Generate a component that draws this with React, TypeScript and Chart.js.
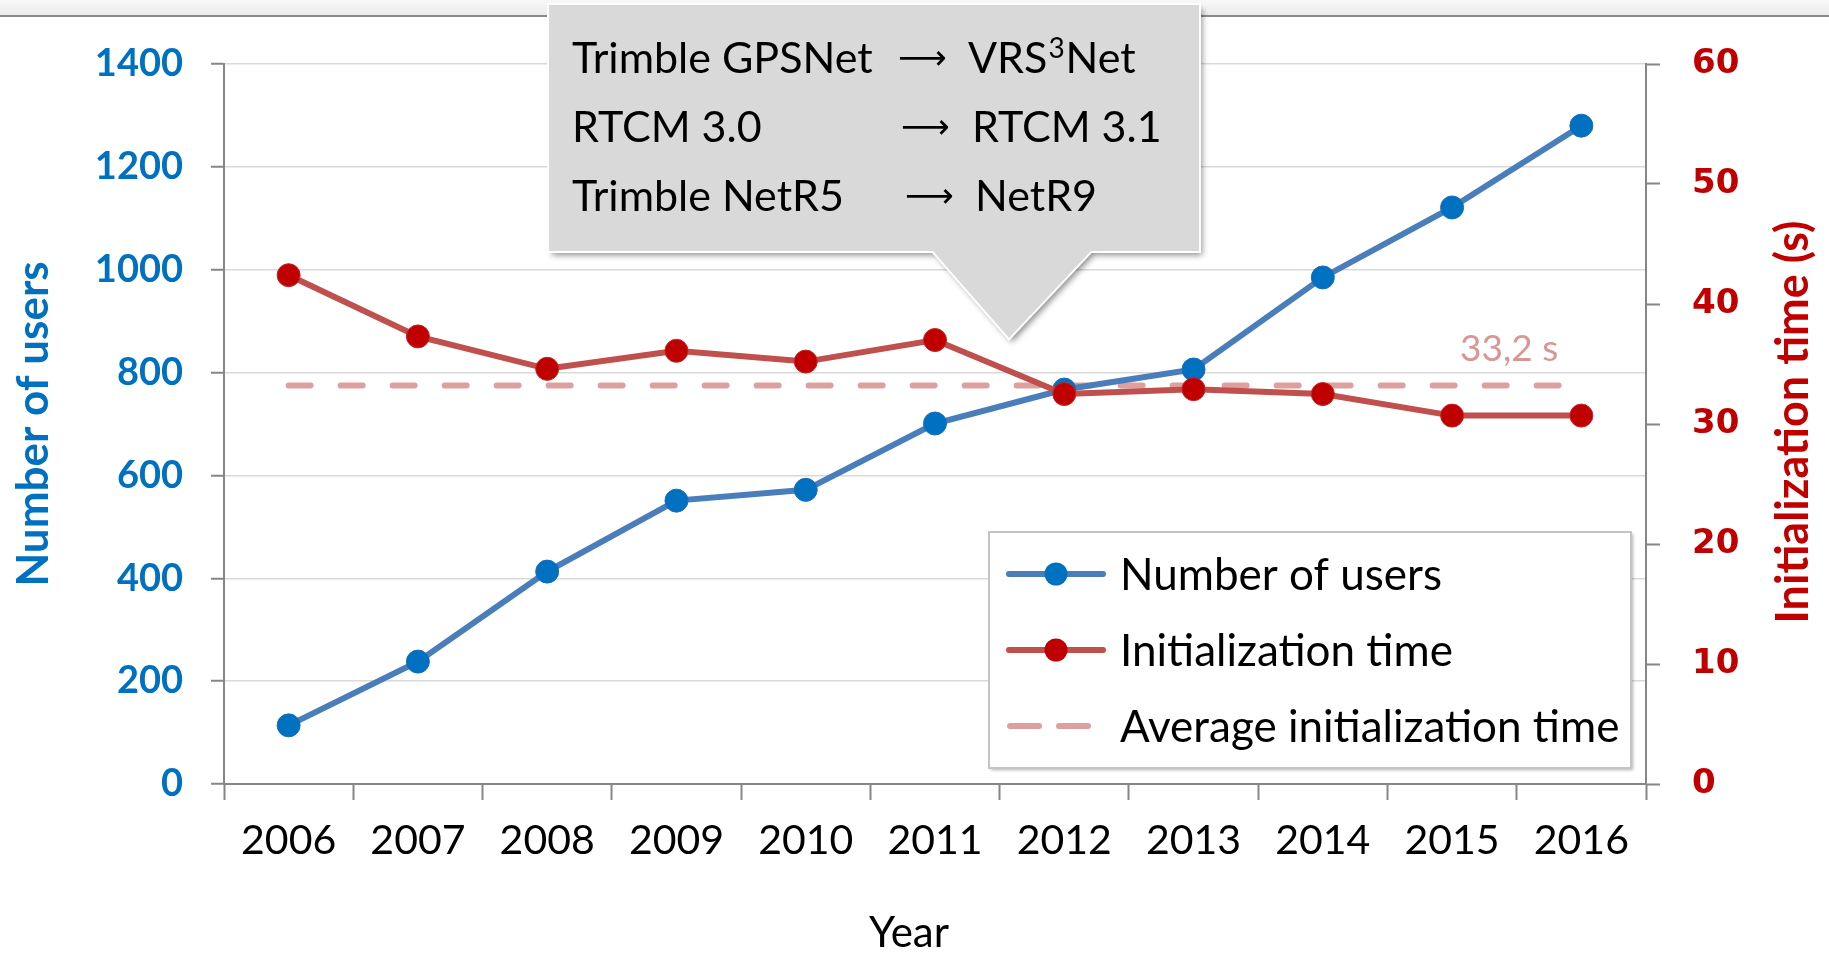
import React, { useEffect, useRef } from 'react';
import { Chart, registerables } from 'chart.js';

Chart.register(...registerables);

const years = ['2006', '2007', '2008', '2009', '2010', '2011', '2012', '2013', '2014', '2015', '2016'];
const numberOfUsers = [114, 238, 413, 551, 572, 701, 767, 806, 985, 1121, 1280];
const initializationTime = [42.4, 37.3, 34.6, 36.1, 35.2, 37.0, 32.5, 32.9, 32.5, 30.7, 30.7];
const averageInitTime = 33.2;
const averageLabel = '33,2 s';
const usersAxis = { min: 0, max: 1400, step: 200 };
const timeAxis = { min: 0, max: 60, step: 10 };
const calloutFrom = ['Trimble GPSNet', 'RTCM 3.0', 'Trimble NetR5'];
const calloutTo = [['VRS', '3', 'Net'], ['RTCM 3.1', '', ''], ['NetR9', '', '']];
const legendLabels = ['Number of users', 'Initialization time', 'Average initialization time'];
const rightAxisTitle = 'Initialization time (s)';

const W = 1829;
const H = 954;
const FONT = 'Lato, "DejaVu Sans", sans-serif';

const decorPlugin = {
  id: 'decor',
  beforeDraw(chart: any) {
    const ctx = chart.ctx as CanvasRenderingContext2D;
    ctx.save();
    ctx.fillStyle = '#ffffff';
    ctx.fillRect(0, 0, W, H);
    const g = ctx.createLinearGradient(0, 0, 0, 15);
    g.addColorStop(0, '#f8f8f8');
    g.addColorStop(1, '#ececec');
    ctx.fillStyle = g;
    ctx.fillRect(0, 0, W, 15);
    ctx.strokeStyle = '#8a8a8a';
    ctx.lineWidth = 2;
    ctx.beginPath();
    ctx.moveTo(0, 16);
    ctx.lineTo(W, 16);
    ctx.stroke();
    ctx.restore();
  },
  afterDraw(chart: any) {
    const ctx = chart.ctx as CanvasRenderingContext2D;
    const yT = chart.scales.yTime;
    ctx.save();

    // average label
    ctx.fillStyle = '#D99694';
    ctx.font = `37px ${FONT}`;
    ctx.textAlign = 'left';
    ctx.textBaseline = 'alphabetic';
    ctx.fillText(averageLabel, 1460, yT.getPixelForValue(averageInitTime) - 25);

    // right axis title (reads bottom to top)
    ctx.save();
    ctx.translate(1793, (yT.top + yT.bottom) / 2 - 2);
    ctx.rotate(-Math.PI / 2);
    ctx.textAlign = 'center';
    ctx.textBaseline = 'middle';
    ctx.fillStyle = '#C00000';
    ctx.font = `bold 45px ${FONT}`;
    ctx.fillText(rightAxisTitle, 0, 0);
    ctx.restore();

    // callout
    ctx.save();
    ctx.beginPath();
    ctx.moveTo(549, 5);
    ctx.lineTo(1199, 5);
    ctx.lineTo(1199, 251);
    ctx.lineTo(1091, 251);
    ctx.lineTo(1009, 338);
    ctx.lineTo(933, 251);
    ctx.lineTo(549, 251);
    ctx.closePath();
    ctx.shadowColor = 'rgba(0,0,0,0.45)';
    ctx.shadowBlur = 6;
    ctx.shadowOffsetX = 3;
    ctx.shadowOffsetY = 4;
    ctx.fillStyle = '#d9d9d9';
    ctx.fill();
    ctx.shadowColor = 'transparent';
    ctx.strokeStyle = '#ffffff';
    ctx.lineWidth = 4;
    ctx.stroke();
    ctx.fillStyle = '#d9d9d9';
    ctx.fill();
    ctx.restore();

    ctx.fillStyle = '#000000';
    ctx.textBaseline = 'alphabetic';
    const baselines = [73, 142, 211];
    const arrowX = [898, 901, 905];
    const toX = [968, 972, 975];
    for (let i = 0; i < calloutFrom.length; i++) {
      ctx.font = `43px ${FONT}`;
      ctx.fillText(calloutFrom[i], 572, baselines[i]);
      ctx.font = `34px "DejaVu Sans", sans-serif`;
      ctx.fillText('\u27F6', arrowX[i], baselines[i] - 4);
      ctx.font = `43px ${FONT}`;
      const [a, sup, b] = calloutTo[i];
      let x = toX[i];
      ctx.fillText(a, x, baselines[i]);
      x += ctx.measureText(a).width;
      if (sup) {
        ctx.font = `28px ${FONT}`;
        ctx.fillText(sup, x + 1, baselines[i] - 15);
        x += ctx.measureText(sup).width + 2;
        ctx.font = `43px ${FONT}`;
      }
      if (b) ctx.fillText(b, x, baselines[i]);
    }

    // legend
    ctx.save();
    ctx.shadowColor = 'rgba(0,0,0,0.3)';
    ctx.shadowBlur = 3;
    ctx.shadowOffsetX = 2;
    ctx.shadowOffsetY = 2;
    ctx.fillStyle = '#ffffff';
    ctx.fillRect(989, 532, 642, 236);
    ctx.restore();
    ctx.strokeStyle = '#c4c4c4';
    ctx.lineWidth = 2;
    ctx.strokeRect(989, 532, 642, 236);

    const rows = [574, 650, 726];
    ctx.lineCap = 'round';
    ctx.strokeStyle = '#4A7EBB';
    ctx.lineWidth = 6;
    ctx.beginPath(); ctx.moveTo(1009, rows[0]); ctx.lineTo(1103, rows[0]); ctx.stroke();
    ctx.fillStyle = '#0070C0';
    ctx.beginPath(); ctx.arc(1056, rows[0], 11.5, 0, Math.PI * 2); ctx.fill();
    ctx.strokeStyle = '#C0504D';
    ctx.beginPath(); ctx.moveTo(1009, rows[1]); ctx.lineTo(1103, rows[1]); ctx.stroke();
    ctx.fillStyle = '#C00000';
    ctx.beginPath(); ctx.arc(1056, rows[1], 11.5, 0, Math.PI * 2); ctx.fill();
    ctx.strokeStyle = 'rgba(217,150,148,0.9)';
    ctx.beginPath(); ctx.moveTo(1010, rows[2]); ctx.lineTo(1039, rows[2]); ctx.stroke();
    ctx.beginPath(); ctx.moveTo(1059, rows[2]); ctx.lineTo(1088, rows[2]); ctx.stroke();

    ctx.fillStyle = '#000000';
    ctx.font = `44px ${FONT}`;
    ctx.textBaseline = 'middle';
    for (let i = 0; i < legendLabels.length; i++) {
      ctx.fillText(legendLabels[i], 1120, rows[i] + 2);
    }

    // x axis title
    ctx.textAlign = 'center';
    ctx.textBaseline = 'alphabetic';
    ctx.font = `42px ${FONT}`;
    ctx.fillText('Year', 909, 947);

    ctx.restore();
  },
};

export default function App() {
  const ref = useRef<HTMLCanvasElement>(null);

  useEffect(() => {
    if (!ref.current) return;
    const chart = new Chart(ref.current, {
      type: 'line',
      data: {
        labels: years,
        datasets: [
          {
            label: legendLabels[1],
            data: initializationTime,
            yAxisID: 'yTime',
            borderColor: '#C0504D',
            backgroundColor: '#C00000',
            pointBackgroundColor: '#C00000',
            pointBorderColor: '#C0282A',
            pointBorderWidth: 1,
            pointRadius: 11.5,
            borderWidth: 6,
            tension: 0,
            order: 0,
          },
          {
            label: legendLabels[0],
            data: numberOfUsers,
            yAxisID: 'yUsers',
            borderColor: '#4A7EBB',
            backgroundColor: '#0070C0',
            pointBackgroundColor: '#0070C0',
            pointBorderColor: '#1a6fb8',
            pointBorderWidth: 1,
            pointRadius: 11.5,
            borderWidth: 6,
            tension: 0,
            order: 1,
          },
          {
            label: legendLabels[2],
            data: years.map(() => averageInitTime),
            yAxisID: 'yTime',
            borderColor: 'rgba(217,150,148,0.9)',
            borderDash: [22, 30],
            borderCapStyle: 'round',
            borderWidth: 6,
            pointRadius: 0,
            tension: 0,
            order: 2,
          },
        ],
      },
      options: {
        responsive: false,
        animation: false,
        devicePixelRatio: 1,
        layout: { padding: { top: 64, left: 0, right: 0, bottom: 0 } },
        plugins: {
          legend: { display: false },
          tooltip: { enabled: false },
        },
        scales: {
          x: {
            type: 'category',
            offset: true,
            grid: {
              offset: true,
              drawOnChartArea: false,
              tickLength: 16,
              tickColor: '#868686',
              tickWidth: 2,
            },
            border: { color: '#868686', width: 2 },
            ticks: {
              color: '#000000',
              font: { family: FONT, size: 41 },
              padding: 16,
              maxRotation: 0,
              autoSkip: false,
            },
            afterFit: (s: any) => {
              s.height = 170;
            },
          },
          yUsers: {
            type: 'linear',
            position: 'left',
            min: usersAxis.min,
            max: usersAxis.max,
            ticks: {
              stepSize: usersAxis.step,
              color: '#0070C0',
              font: { family: FONT, size: 38, weight: 'bold' },
              padding: 28,
              callback: (v: any) => String(v),
            },
            grid: {
              color: '#d9d9d9',
              lineWidth: 1.5,
              tickLength: 13,
              tickColor: '#868686',
              tickWidth: 2,
            },
            border: { color: '#868686', width: 2 },
            title: {
              display: true,
              text: 'Number of users',
              color: '#0070C0',
              font: { family: FONT, size: 44, weight: 'bold' },
              padding: { top: 7, bottom: 0 },
            },
            afterFit: (s: any) => {
              s.width = 224;
            },
          },
          yTime: {
            type: 'linear',
            position: 'right',
            min: timeAxis.min,
            max: timeAxis.max,
            ticks: {
              stepSize: timeAxis.step,
              color: '#C00000',
              font: { family: '"DejaVu Sans", sans-serif', size: 34, weight: 'bold' },
              padding: 32,
            },
            grid: {
              drawOnChartArea: false,
              tickLength: 14,
              tickColor: '#868686',
              tickWidth: 2,
            },
            border: { color: '#868686', width: 2 },
            title: { display: false },
            afterFit: (s: any) => {
              s.width = 183;
            },
          },
        },
      },
      plugins: [decorPlugin],
    } as any);
    return () => chart.destroy();
  }, []);

  return (
    <div style={{ position: 'fixed', left: 0, top: 0, width: W, height: H, background: '#fff' }}>
      <canvas ref={ref} width={W} height={H} style={{ display: 'block', width: W, height: H }} />
    </div>
  );
}
